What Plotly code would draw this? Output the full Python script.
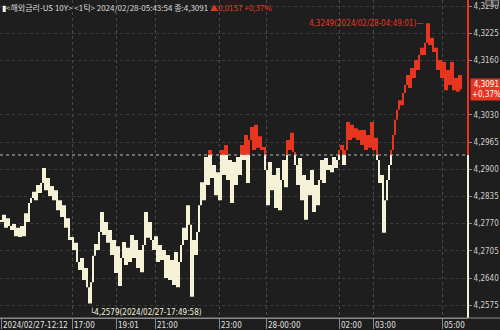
import plotly.graph_objects as go

# tick-by-tick price (one value per tick, ~2px per tick in the reference)
prices = [
    4.2774, 4.2791, 4.2760, 4.2783, 4.2764,
    4.2755, 4.2769, 4.2740, 4.2760, 4.2738,
    4.2764, 4.2740, 4.2795, 4.2774, 4.2819,
    4.2831, 4.2846, 4.2826, 4.2862, 4.2843,
    4.2867, 4.2903, 4.2850, 4.2879, 4.2836,
    4.2860, 4.2826, 4.2850, 4.2802, 4.2826,
    4.2786, 4.2814, 4.2760, 4.2783, 4.2731,
    4.2738, 4.2707, 4.2724, 4.2678, 4.2659,
    4.2688, 4.2635, 4.2664, 4.2618, 4.2579,
    4.2630, 4.2693, 4.2721, 4.2707, 4.2750,
    4.2798, 4.2743, 4.2774, 4.2724, 4.2755,
    4.2695, 4.2731, 4.2652, 4.2716, 4.2621,
    4.2688, 4.2726, 4.2671, 4.2712, 4.2678,
    4.2743, 4.2688, 4.2731, 4.2664, 4.2707,
    4.2654, 4.2719, 4.2798, 4.2736, 4.2774,
    4.2731, 4.2707, 4.2740, 4.2678, 4.2719,
    4.2683, 4.2707, 4.2640, 4.2695, 4.2635,
    4.2683, 4.2623, 4.2702, 4.2618, 4.2678,
    4.2719, 4.2760, 4.2731, 4.2814, 4.2767,
    4.2595, 4.2731, 4.2695, 4.2750, 4.2814,
    4.2869, 4.2826, 4.2929, 4.2862, 4.2946,
    4.2879, 4.2910, 4.2838, 4.2893, 4.2826,
    4.2946, 4.2886, 4.2958, 4.2874, 4.2922,
    4.2819, 4.2917, 4.2862, 4.2929, 4.2886,
    4.2958, 4.2922, 4.2982, 4.2867, 4.2970,
    4.3001, 4.2946, 4.3006, 4.2951, 4.2979,
    4.2946, 4.2953, 4.2898, 4.2814, 4.2917,
    4.2850, 4.2886, 4.2807, 4.2903, 4.2802,
    4.2874, 4.2922, 4.2857, 4.2970, 4.2946,
    4.2987, 4.2941, 4.2910, 4.2862, 4.2927,
    4.2826, 4.2886, 4.2779, 4.2874, 4.2838,
    4.2898, 4.2798, 4.2862, 4.2814, 4.2874,
    4.2922, 4.2867, 4.2927, 4.2898, 4.2910,
    4.2893, 4.2929, 4.2903, 4.2922, 4.2946,
    4.2958, 4.2910, 4.2946, 4.3013, 4.2970,
    4.3006, 4.2975, 4.2998, 4.2970, 4.2994,
    4.2958, 4.2994, 4.2946, 4.2982, 4.2951,
    4.3013, 4.2946, 4.2975, 4.2922, 4.2867,
    4.2886, 4.2748, 4.2826, 4.2874, 4.2910,
    4.2946, 4.2982, 4.3018, 4.3042, 4.3065,
    4.3053, 4.3082, 4.3101, 4.3125, 4.3094,
    4.3142, 4.3118, 4.3161, 4.3137, 4.3173,
    4.3190, 4.3173, 4.3202, 4.3249, 4.3197,
    4.3214, 4.3180, 4.3190, 4.3137, 4.3161,
    4.3118, 4.3156, 4.3089, 4.3137, 4.3101,
    4.3156, 4.3089, 4.3118, 4.3085, 4.3125,
    4.3091,
]
prev_close = 4.2934
last_price = 4.3091
change = 0.0157
change_pct = 0.37
high_price, high_idx, high_time = 4.3249, 213, "2024/02/28-04:49:01"
low_price, low_idx, low_time = 4.2579, 44, "2024/02/27-17:49:58"

time_tick_idx = [0, 35.5, 57.5, 77, 109, 132.5, 169, 186, 220.5]
time_tick_labels = ["2024/02/27-12:12", "17:00", "19:01", "21:00", "23:00",
                    "28-00:00", "02:00", "03:00", "05:00"]
y_ticks = [4.2575, 4.2640, 4.2705, 4.2770, 4.2835, 4.2900, 4.2965,
           4.3030, 4.3160, 4.3225, 4.3290]
y_range = [4.25444, 4.33044]

RED = "#e8351f"
CREAM = "#f4f1d6"
BG = "#1e1e1e"
TXT = "#cfcfcf"

up_x, up_base, up_h = [], [], []
dn_x, dn_base, dn_h = [], [], []
for i, p in enumerate(prices):
    q = prices[i - 1] if i > 0 else p
    lo, hi = min(p, q), max(p, q)
    if hi - lo < 0.0003:
        hi = lo + 0.0003
    if hi > prev_close:
        b = max(lo, prev_close)
        up_x.append(i); up_base.append(b); up_h.append(hi - b)
    if lo < prev_close:
        t = min(hi, prev_close)
        dn_x.append(i); dn_base.append(lo); dn_h.append(t - lo)

fig = go.Figure()
fig.add_trace(go.Bar(x=dn_x, y=dn_h, base=dn_base, marker_color=CREAM,
                     marker_line_width=0, width=0.65, hoverinfo="skip"))
fig.add_trace(go.Bar(x=up_x, y=up_h, base=up_base, marker_color=RED,
                     marker_line_width=0, width=0.65, hoverinfo="skip"))

fig.update_layout(
    width=500, height=330,
    margin=dict(l=0, r=32, t=0, b=12),
    paper_bgcolor=BG, plot_bgcolor=BG,
    showlegend=False, barmode="overlay",
    separators=",.",
    font=dict(family="Noto Sans CJK KR, sans-serif", size=8, color=TXT),
)
fig.update_xaxes(range=[-0.5, 233.5], tickvals=time_tick_idx, showticklabels=False,
                 ticks="outside", ticklen=10, tickcolor="#8a8a8a",
                 showgrid=True, gridcolor="#4a4a4a", griddash="dot", gridwidth=1,
                 showline=True, linecolor="#8a8a8a", zeroline=False, fixedrange=True)
fig.update_yaxes(range=y_range, side="right", tickvals=y_ticks,
                 tickformat=".4f", ticks="outside", ticklen=3, tickcolor="#8a8a8a",
                 tickfont=dict(size=8, color=TXT, family="DejaVu Sans Condensed, sans-serif"),
                 showgrid=True, gridcolor="#3c3c3c", griddash="dot", gridwidth=1,
                 zeroline=False, showline=False, fixedrange=True)

# previous-close reference line
fig.add_shape(type="line", xref="paper", yref="y", x0=0, x1=1, y0=prev_close, y1=prev_close,
              line=dict(color="#bdbdbd", width=1, dash="dot"))
# right axis coloured above / below previous close
split = (prev_close - y_range[0]) / (y_range[1] - y_range[0])
fig.add_shape(type="line", xref="paper", yref="paper", x0=1, x1=1, y0=0, y1=split,
              line=dict(color=CREAM, width=2))
fig.add_shape(type="line", xref="paper", yref="paper", x0=1, x1=1, y0=split, y1=1,
              line=dict(color=RED, width=2))
# bottom axis across full width
fig.add_shape(type="line", xref="paper", yref="paper", x0=0, x1=1.07, y0=0, y1=0,
              line=dict(color="#8a8a8a", width=1))
# window buttons
for bx in (1.0385, 1.053):
    fig.add_shape(type="rect", xref="paper", yref="paper", x0=bx, x1=bx + 0.012,
                  y0=0.983, y1=1.0, line=dict(color="#9a9a9a", width=1), fillcolor="#3a3a3a")

# time labels
for xi, lab in zip(time_tick_idx, time_tick_labels):
    fig.add_annotation(x=xi, y=0, xref="x", yref="paper", text=lab, showarrow=False,
                       xanchor="left", yanchor="top", xshift=0, yshift=-1,
                       font=dict(size=8, color="#e0e0e0", family="DejaVu Sans Condensed, sans-serif"))

# header
fig.add_annotation(
    x=0, y=1, xref="paper", yref="paper", xanchor="left", yanchor="top", showarrow=False,
    xshift=0, yshift=0,
    text=("<span style='color:#f0f0f0'>▮</span>&lt;해외금리-US 10Y&gt; &lt;1틱&gt; 2024/02/28-05:43:54 종:"
          f"{last_price:.4f}".replace(".", ",")
          + f" <span style='color:{RED}'>▲{change:.4f} +{change_pct:.2f}%</span>".replace(".", ",")),
    font=dict(size=8, color="#d8d8d8", family="Noto Sans CJK KR"),
)

# last price box
fig.add_annotation(
    x=1, y=last_price, xref="paper", yref="y", xanchor="left", yanchor="middle",
    showarrow=False, xshift=2,
    text=(f"{last_price:.4f}<br>+{change_pct:.2f}%").replace(".", ","),
    bgcolor=RED, font=dict(size=8, color="white", family="DejaVu Sans Condensed, sans-serif"),
    borderpad=1, align="center",
)

# high / low marks
fig.add_annotation(x=high_idx, y=high_price, xref="x", yref="y", xanchor="right",
                   yanchor="middle", showarrow=False, xshift=-2,
                   text=f"{high_price:.4f}({high_time})—".replace(".", ",", 1),
                   font=dict(size=8, color=RED, family="DejaVu Sans Condensed, sans-serif"))
fig.add_annotation(x=low_idx, y=low_price, xref="x", yref="y", xanchor="left",
                   yanchor="top", showarrow=False, xshift=-1, yshift=-1,
                   text=f"└{low_price:.4f}({low_time})".replace(".", ",", 1),
                   font=dict(size=8, color=CREAM, family="DejaVu Sans Condensed, sans-serif"))

fig.write_html("out.html")
